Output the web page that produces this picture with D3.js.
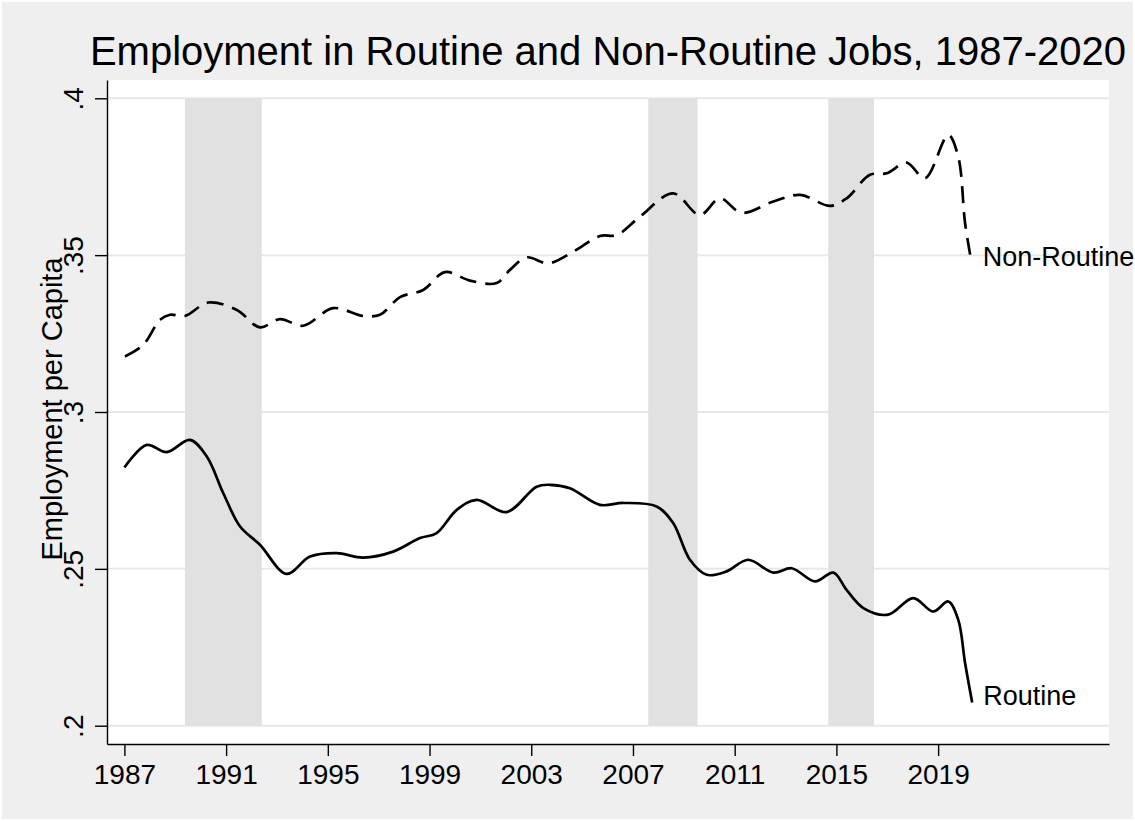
<!DOCTYPE html>
<html lang="en">
<head>
    <meta charset="UTF-8">
    <title>Employment in Routine and Non-Routine Jobs</title>
    <script src="https://d3js.org/d3.v7.min.js"></script>
    <style>
        body {
            margin: 0;
            background: #ffffff;
            font-family: 'Liberation Sans', Arial, Helvetica, sans-serif;
        }
        .grid line {
            stroke: #e8e8e8;
            stroke-width: 2px;
        }
        .axis path, .axis line {
            stroke: #000;
            stroke-width: 1.4px;
        }
        .axis text {
            font: 28px 'Liberation Sans', Arial, sans-serif;
            fill: #000;
        }
    </style>
</head>
<body>
    <div id="chart"></div>
    <script>
        // years (decimal) and values
        const routineYears = [1987.0, 1987.88, 1988.66, 1989.58, 1990.24, 1990.89, 1991.55, 1992.33, 1993.38, 1994.30,
            1995.35, 1996.39, 1997.57, 1998.62, 1999.28, 2000.07, 2000.85, 2002.03, 2003.21, 2003.74,
            2004.52, 2005.70, 2006.62, 2007.93, 2008.58, 2009.24, 2009.90, 2010.68, 2011.53, 2012.52,
            2013.24, 2014.16, 2014.88, 2015.40, 2016.06, 2017.04, 2018.02, 2018.81, 2019.40, 2019.79,
            2020.06, 2020.34];
        const routineValues = [0.2823, 0.2895, 0.2872, 0.2911, 0.2858, 0.2741, 0.2635, 0.2577, 0.2484, 0.2539,
            0.2550, 0.2536, 0.2555, 0.2598, 0.2614, 0.2688, 0.2720, 0.2681, 0.2762, 0.2768,
            0.2757, 0.2704, 0.2710, 0.2699, 0.2646, 0.2529, 0.2481, 0.2492, 0.2529, 0.2488,
            0.2502, 0.2460, 0.2488, 0.2433, 0.2375, 0.2354, 0.2407, 0.2364, 0.2396, 0.2338,
            0.2200, 0.2074];

        const nonRoutineYears = [1987.02, 1987.74, 1988.40, 1988.79, 1989.38, 1990.30, 1991.42, 1992.33, 1993.12, 1994.03,
            1995.21, 1996.39, 1997.05, 1997.84, 1998.75, 1999.61, 2000.59, 2001.64, 2002.16, 2002.82,
            2003.67, 2004.65, 2005.70, 2006.36, 2007.28, 2008.58, 2009.63, 2010.42, 2011.27, 2012.52,
            2013.57, 2014.75, 2015.40, 2016.32, 2016.98, 2017.76, 2018.48, 2019.40, 2019.79, 2020.06,
            2020.32];
        const nonRoutineValues = [0.3177, 0.3214, 0.3294, 0.3310, 0.3306, 0.3349, 0.3325, 0.3270, 0.3296, 0.3275,
            0.3331, 0.3306, 0.3310, 0.3366, 0.3389, 0.3446, 0.3419, 0.3411, 0.3453, 0.3493,
            0.3474, 0.3511, 0.3561, 0.3564, 0.3623, 0.3697, 0.3628, 0.3681, 0.3635, 0.3671,
            0.3692, 0.3657, 0.3681, 0.3756, 0.3761, 0.3795, 0.3745, 0.3883, 0.3814, 0.3602,
            0.3474];

        const recessionStart = [1989.38, 2007.60, 2014.68];
        const recessionEnd = [1992.40, 2009.54, 2016.48];

        const xTicks = [1987, 1991, 1995, 1999, 2003, 2007, 2011, 2015, 2019];
        const yTicks = [0.2, 0.25, 0.3, 0.35, 0.4];
        const yTickLabels = [".2", ".25", ".3", ".35", ".4"];

        const width = 1135, height = 821;
        const margin = {top: 80, right: 26, bottom: 77, left: 107};

        const svg = d3.select("#chart").append("svg")
            .attr("width", width)
            .attr("height", height);

        svg.append("rect")
            .attr("x", 2).attr("y", 2)
            .attr("width", width - 4).attr("height", height - 4)
            .attr("fill", "#efefef");

        const x = d3.scaleLinear()
            .domain([1986.316, 2025.72])
            .range([margin.left, width - margin.right]);
        const y = d3.scaleLinear()
            .domain([0.19417, 0.40583])
            .range([height - margin.bottom, margin.top]);

        svg.append("rect")
            .attr("x", margin.left).attr("y", margin.top)
            .attr("width", width - margin.left - margin.right)
            .attr("height", height - margin.top - margin.bottom)
            .attr("fill", "#fff");

        // gridlines
        svg.append("g")
            .attr("class", "grid")
            .selectAll("line")
            .data(yTicks)
            .join("line")
            .attr("x1", margin.left)
            .attr("x2", width - margin.right)
            .attr("y1", d => y(d))
            .attr("y2", d => y(d));

        // recession bands
        svg.append("g")
            .selectAll("rect")
            .data(recessionStart)
            .join("rect")
            .attr("x", d => x(d))
            .attr("width", (d, i) => x(recessionEnd[i]) - x(d))
            .attr("y", y(0.4))
            .attr("height", y(0.2) - y(0.4))
            .attr("fill", "#e1e1e1");

        const line = d3.line()
            .x(d => x(d[0]))
            .y(d => y(d[1]))
            .curve(d3.curveCatmullRom.alpha(0.5));

        const routine = routineYears.map((d, i) => [d, routineValues[i]]);
        const nonRoutine = nonRoutineYears.map((d, i) => [d, nonRoutineValues[i]]);

        svg.append("path")
            .datum(routine)
            .attr("fill", "none")
            .attr("stroke", "#000")
            .attr("stroke-width", 2.7)
            .attr("d", line);

        svg.append("path")
            .datum(nonRoutine)
            .attr("fill", "none")
            .attr("stroke", "#000")
            .attr("stroke-width", 2.7)
            .attr("stroke-dasharray", "17,9")
            .attr("d", line);

        // end labels
        const labelFont = "27px 'Liberation Sans', Arial, sans-serif";
        const lastR = routine[routine.length - 1];
        const lastN = nonRoutine[nonRoutine.length - 1];
        svg.append("text")
            .attr("x", x(lastN[0]) + 11)
            .attr("y", y(lastN[1]) + 3)
            .style("font", labelFont)
            .text("Non-Routine");
        svg.append("text")
            .attr("x", x(lastR[0]) + 11)
            .attr("y", y(lastR[1]) + 3)
            .style("font", labelFont)
            .text("Routine");

        // axes
        svg.append("g")
            .attr("class", "axis")
            .attr("transform", `translate(0,${height - margin.bottom})`)
            .call(d3.axisBottom(x)
                .tickValues(xTicks)
                .tickFormat(d3.format("d"))
                .tickSize(12)
                .tickSizeOuter(0))
            .selectAll("text")
            .attr("y", 40)
            .attr("dy", 0);

        svg.append("g")
            .attr("class", "axis")
            .attr("transform", `translate(${margin.left},0)`)
            .call(d3.axisLeft(y)
                .tickValues(yTicks)
                .tickFormat((d, i) => yTickLabels[i])
                .tickSize(12)
                .tickSizeOuter(0))
            .selectAll("text")
            .attr("transform", "rotate(-90)")
            .attr("x", 0)
            .attr("y", -24)
            .attr("dy", 0)
            .style("text-anchor", "middle");

        // titles
        svg.append("text")
            .attr("x", (margin.left + width - margin.right) / 2)
            .attr("y", 65)
            .attr("text-anchor", "middle")
            .style("font", "40px 'Liberation Sans', Arial, sans-serif")
            .text("Employment in Routine and Non-Routine Jobs, 1987-2020");

        svg.append("text")
            .attr("transform", `translate(62,${(margin.top + height - margin.bottom) / 2 - 3}) rotate(-90)`)
            .attr("text-anchor", "middle")
            .style("font", "29px 'Liberation Sans', Arial, sans-serif")
            .text("Employment per Capita");
    </script>
</body>
</html>
